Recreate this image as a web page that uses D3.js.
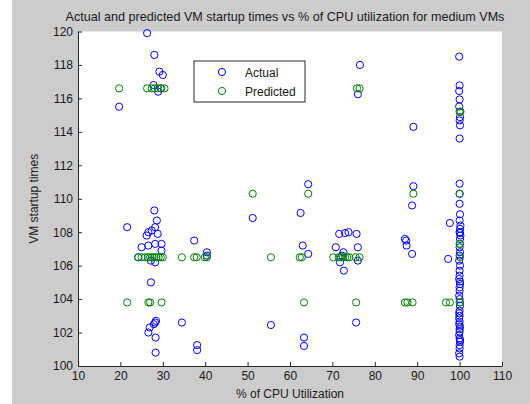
<!DOCTYPE html>
<html>
<head>
<meta charset="utf-8">
<script src="https://cdn.jsdelivr.net/npm/d3@7"></script>
<style>
  html, body { margin: 0; padding: 0; background: #ffffff; }
  svg { display: block; }
  text { font-family: "Liberation Sans", Arial, sans-serif; fill: #1a1a1a; }
</style>
</head>
<body>
<svg id="chart" width="530" height="404"></svg>
<script>
// ---------------- data ----------------
const title = "Actual and predicted VM startup times vs % of CPU utilization for medium VMs";
const xLabel = "% of CPU Utilization";
const yLabel = "VM startup times";
const xTicks = [10, 20, 30, 40, 50, 60, 70, 80, 90, 100, 110];
const yTicks = [100, 102, 104, 106, 108, 110, 112, 114, 116, 118, 120];
const seriesNames = ["Actual", "Predicted"];

const actualX = [
  19.7, 26.3, 28.0, 29.2, 30.0, 27.8, 28.9, 29.5,
  21.6, 28.0, 28.6, 26.6, 27.4, 26.2, 28.8, 28.2, 25.0, 26.6, 28.2, 29.7, 29.7,
  24.2, 27.2, 28.2, 27.2, 28.4, 28.2, 27.9, 26.9, 26.6, 28.3, 28.3,
  34.5, 37.4, 38.1, 38.1, 40.4, 40.4,
  51.2, 55.5, 62.5, 63.0, 64.3, 63.3, 63.3, 64.3,
  76.5, 76.0, 71.6, 73.0, 73.8, 75.7, 70.8, 72.6, 76.0, 71.8, 76.0, 72.7, 75.6, 72.3,
  89.1, 89.1, 88.8, 87.1, 87.4, 87.5, 88.8, 97.3, 97.7,
  99.9, 100.0, 99.9, 100.0, 99.9, 100.1, 100.0, 100.1, 100.0, 100.0, 100.0,
  100.0, 100.1, 100.0, 100.2, 100.1, 100.0, 100.2, 100.1, 100.0, 100.1, 100.0,
  99.9, 100.1, 100.0, 100.0, 99.9, 100.1, 100.0, 100.0, 99.9, 100.1, 100.0,
  100.0, 99.9, 100.0, 100.1, 100.0, 99.9, 100.0, 100.1, 100.0, 100.0, 99.9,
  100.0, 100.1, 100.0, 99.9, 100.1, 100.0, 99.9, 100.1
];
const actualY = [
  115.5, 119.9, 118.6, 117.6, 117.4, 116.8, 116.4, 116.6,
  108.3, 109.3, 108.7, 108.0, 108.1, 107.8, 107.9, 108.3, 107.1, 107.2, 107.3, 107.3, 106.9,
  106.5, 106.3, 106.2, 105.0, 102.7, 102.6, 102.5, 102.3, 102.0, 101.7, 100.8,
  102.6, 107.5, 101.25, 100.95, 106.8, 106.6,
  108.85, 102.45, 109.15, 107.2, 106.7, 101.7, 101.2, 110.87,
  118.0, 116.25, 107.9, 107.95, 108.0, 107.9, 107.1, 106.8, 107.1, 106.2, 106.3, 105.7, 102.6, 106.6,
  114.3, 110.75, 109.6, 107.6, 107.5, 107.2, 106.7, 106.4, 108.55,
  118.5, 116.78, 116.44, 115.94, 115.52, 114.88, 114.69, 114.39, 113.6, 110.9, 110.3,
  109.7, 109.07, 108.7, 108.4, 108.2, 108.0, 107.8, 107.6, 107.1, 106.8, 106.6,
  106.3, 106.0, 105.7, 105.4, 105.2, 104.9, 104.7, 104.5, 104.2, 103.6, 103.3,
  103.0, 102.85, 102.65, 102.35, 102.05, 101.85, 101.65, 101.45, 101.25, 101.05, 100.76,
  100.56, 107.95, 104.0, 102.5, 101.55, 102.2, 103.15, 105.05
];

const predictedX = [
  19.7, 26.3, 27.4, 28.1, 28.8, 29.6, 30.4,
  21.6, 26.6, 27.0, 29.7,
  24.2, 25.0, 25.8, 26.5, 27.0, 27.5, 28.0, 28.5, 29.0, 29.5, 30.0,
  34.5, 37.4, 38.0, 39.9, 40.4,
  51.2, 55.5, 62.3, 62.8, 63.3, 64.3,
  70.2, 71.5, 72.0, 72.5, 73.0, 73.5, 74.0, 75.5, 76.4,
  75.6, 75.8, 76.4,
  89.1, 87.1, 87.7, 88.9,
  96.8, 97.7,
  100.0, 100.1, 100.2, 100.0, 100.0, 100.1, 100.0, 100.1, 100.1
];
const predictedY = [
  116.6, 116.6, 116.6, 116.6, 116.6, 116.6, 116.6,
  103.8, 103.8, 103.8, 103.8,
  106.5, 106.5, 106.5, 106.5, 106.5, 106.5, 106.5, 106.5, 106.5, 106.5, 106.5,
  106.5, 106.5, 106.5, 106.5, 106.5,
  110.3, 106.5, 106.5, 106.5, 103.8, 110.3,
  106.5, 106.5, 106.5, 106.5, 106.5, 106.5, 106.5, 106.5, 106.5,
  103.8, 116.6, 116.6,
  110.3, 103.8, 103.8, 103.8,
  103.8, 103.8,
  115.2, 115.2, 115.2, 110.3, 107.3, 107.3, 103.8, 103.8, 106.5
];

const colors = { actual: "#0000ff", predicted: "#008000" };

// ---------------- layout ----------------
const W = 530, H = 404;
const plot = { left: 78, right: 502, top: 31.5, bottom: 366 };

const svg = d3.select("#chart");

// figure background (MATLAB gray)
svg.append("rect").attr("x", 12).attr("y", 0).attr("width", W - 12).attr("height", H).attr("fill", "#cccccc");
// axes background
svg.append("rect")
  .attr("x", plot.left).attr("y", plot.top)
  .attr("width", plot.right - plot.left).attr("height", plot.bottom - plot.top)
  .attr("fill", "#ffffff");

const x = d3.scaleLinear().domain([10, 110]).range([plot.left, plot.right]);
const y = d3.scaleLinear().domain([100, 120]).range([plot.bottom, plot.top]);

// axes
const xAxis = d3.axisBottom(x).tickValues(xTicks).tickFormat(d3.format("d"))
  .tickSizeInner(-4).tickSizeOuter(0).tickPadding(5);
const yAxis = d3.axisLeft(y).tickValues(yTicks).tickFormat(d3.format("d"))
  .tickSizeInner(-4).tickSizeOuter(0).tickPadding(5);

const gx = svg.append("g").attr("transform", `translate(0,${plot.bottom})`).call(xAxis);
const gy = svg.append("g").attr("transform", `translate(${plot.left},0)`).call(yAxis);
[gx, gy].forEach(g => {
  g.selectAll("path.domain").attr("stroke", "#262626").attr("stroke-width", 1);
  g.selectAll(".tick line").attr("stroke", "#262626");
  g.selectAll(".tick text").attr("font-size", 12)
    .attr("font-family", '"Liberation Sans", Arial, sans-serif').attr("fill", "#1a1a1a");
});

// points
function drawSeries(xs, ys, color) {
  svg.append("g").selectAll("circle")
    .data(xs.map((v, i) => [v, ys[i]]))
    .join("circle")
    .attr("cx", d => x(d[0]))
    .attr("cy", d => y(d[1]))
    .attr("r", 3.6)
    .attr("fill", "none")
    .attr("stroke", color)
    .attr("stroke-width", 1);
}
drawSeries(actualX, actualY, colors.actual);
drawSeries(predictedX, predictedY, colors.predicted);

// title and labels
svg.append("text").attr("x", 285).attr("y", 21)
  .attr("text-anchor", "middle").attr("font-size", 12.6).text(title);
svg.append("text").attr("x", (plot.left + plot.right) / 2).attr("y", 398)
  .attr("text-anchor", "middle").attr("font-size", 12).text(xLabel);
svg.append("text")
  .attr("transform", `translate(38,${(plot.top + plot.bottom) / 2}) rotate(-90)`)
  .attr("text-anchor", "middle").attr("font-size", 12).text(yLabel);

// legend
const lg = svg.append("g");
lg.append("rect").attr("x", 194).attr("y", 61).attr("width", 111).attr("height", 41)
  .attr("fill", "#ffffff").attr("stroke", "#262626").attr("stroke-width", 1);
const legendRows = [
  { name: seriesNames[0], color: colors.actual, cy: 72 },
  { name: seriesNames[1], color: colors.predicted, cy: 91 }
];
legendRows.forEach(r => {
  lg.append("circle").attr("cx", 222).attr("cy", r.cy).attr("r", 3.6)
    .attr("fill", "none").attr("stroke", r.color).attr("stroke-width", 1);
  lg.append("text").attr("x", 245).attr("y", r.cy + 4.5).attr("font-size", 12).text(r.name);
});
</script>
</body>
</html>
